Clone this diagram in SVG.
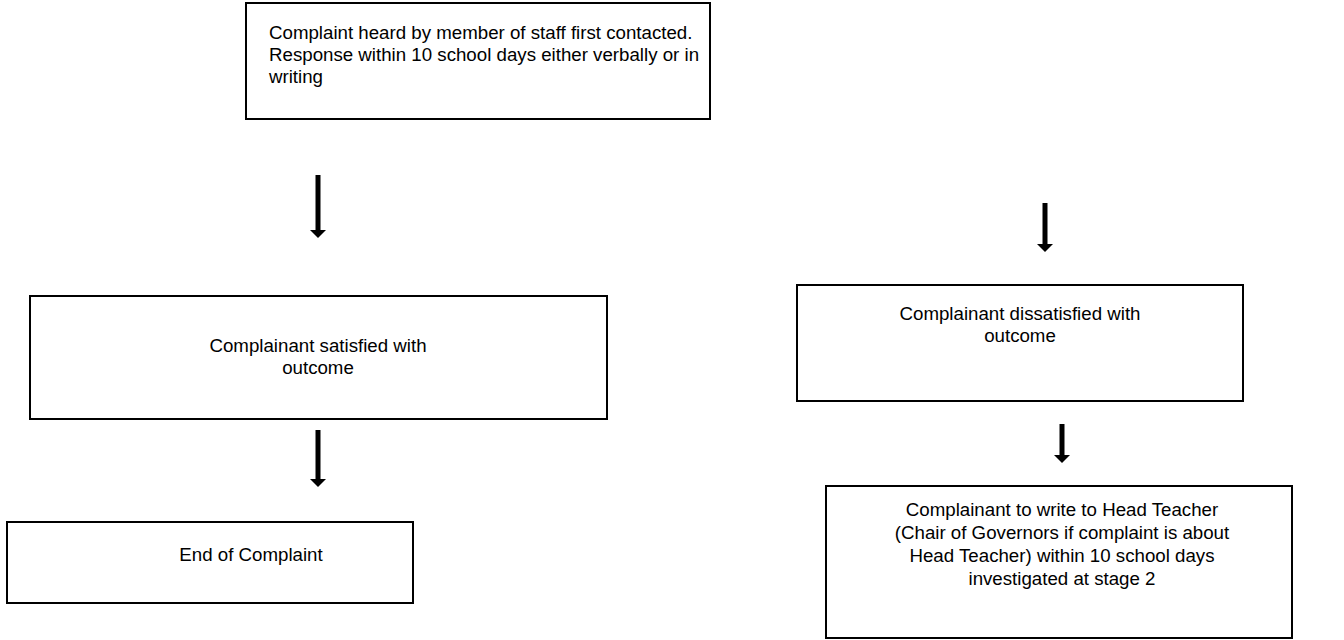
<svg xmlns="http://www.w3.org/2000/svg" width="1344" height="640" viewBox="0 0 1344 640">
<defs>
<style>
.box{fill:#fff;stroke:#000;stroke-width:2}
.t{font-family:"Liberation Sans",Arial,sans-serif;font-size:18.7px;fill:#000}
.c{text-anchor:middle}
.sh{stroke:#000;stroke-width:5;fill:none}
.hd{fill:#000}
</style>
</defs>
<rect width="1344" height="640" fill="#fff"/>
<g id="n1">
<rect class="box" x="246" y="3" width="464" height="116"/>
<text class="t" x="269" y="39">Complaint heard by member of staff first contacted.</text>
<text class="t" x="269" y="61">Response within 10 school days either verbally or in</text>
<text class="t" x="269" y="83">writing</text>
</g>
<g id="n2">
<rect class="box" x="30" y="296" width="577" height="123"/>
<text class="t c" x="318" y="352">Complainant satisfied with</text>
<text class="t c" x="318" y="374">outcome</text>
</g>
<g id="n3">
<rect class="box" x="797" y="285" width="446" height="116"/>
<text class="t c" x="1020" y="320">Complainant dissatisfied with</text>
<text class="t c" x="1020" y="342">outcome</text>
</g>
<g id="n4">
<rect class="box" x="7" y="522" width="406" height="81"/>
<text class="t c" x="251" y="561">End of Complaint</text>
</g>
<g id="n5">
<rect class="box" x="826" y="486" width="466" height="152"/>
<text class="t c" x="1062" y="516">Complainant to write to Head Teacher</text>
<text class="t c" x="1062" y="539">(Chair of Governors if complaint is about</text>
<text class="t c" x="1062" y="562">Head Teacher) within 10 school days</text>
<text class="t c" x="1062" y="585">investigated at stage 2</text>
</g>
<g id="connectors">
<line class="sh" x1="318" y1="175" x2="318" y2="231"/>
<polygon class="hd" points="310,230 326,230 318,238"/>
<line class="sh" x1="1045" y1="203" x2="1045" y2="245"/>
<polygon class="hd" points="1037,244 1053,244 1045,252"/>
<line class="sh" x1="318" y1="430" x2="318" y2="480"/>
<polygon class="hd" points="310,479 326,479 318,487"/>
<line class="sh" x1="1062" y1="424" x2="1062" y2="456"/>
<polygon class="hd" points="1054,455 1070,455 1062,463"/>
</g>
</svg>
